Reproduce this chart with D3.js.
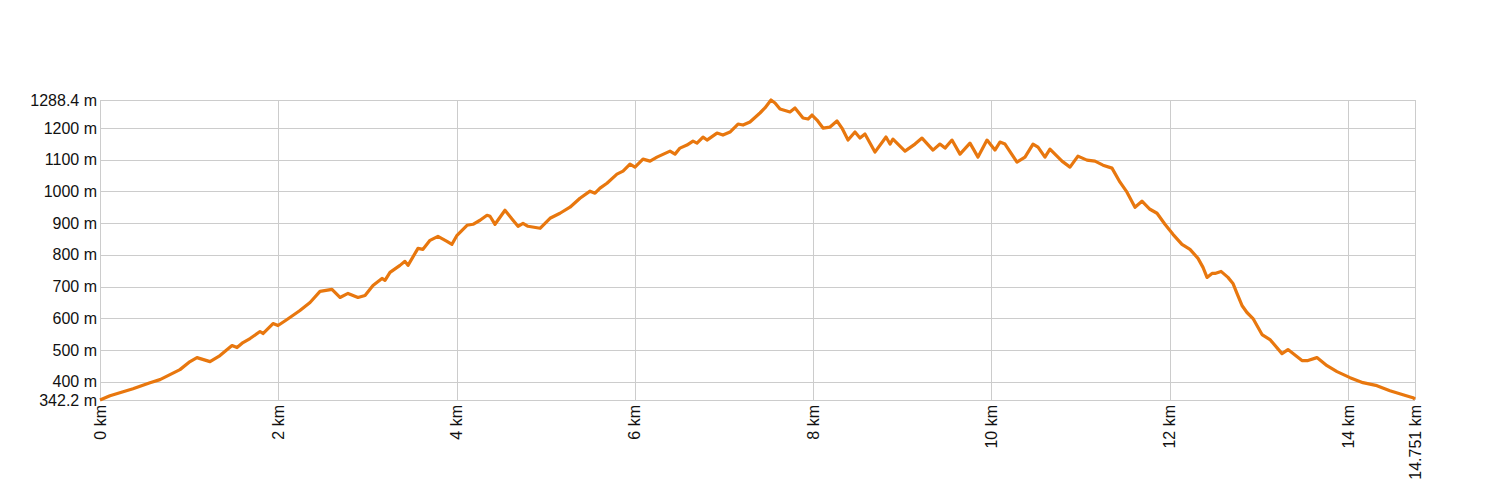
<!DOCTYPE html>
<html>
<head>
<meta charset="utf-8">
<script src="https://cdn.jsdelivr.net/npm/d3@7"></script>
<style>
  html, body { margin: 0; padding: 0; background: #fff; }
  svg { display: block; font-family: "Liberation Sans", Arial, sans-serif; }
</style>
</head>
<body>
<svg id="chart" width="1500" height="500"></svg>
<script>
// Distance along the route (km)
const distanceKm = [
  0, 0.112, 0.370, 0.561, 0.673, 0.785, 0.897, 1.010, 1.088, 1.234,
  1.346, 1.481, 1.537, 1.604, 1.683, 1.795, 1.828, 1.941, 1.997, 2.098,
  2.243, 2.356, 2.468, 2.602, 2.692, 2.782, 2.894, 2.973, 3.062, 3.163,
  3.197, 3.253, 3.365, 3.421, 3.455, 3.567, 3.623, 3.702, 3.791, 3.892,
  3.948, 4.005, 4.117, 4.184, 4.263, 4.341, 4.375, 4.431, 4.543, 4.633,
  4.689, 4.745, 4.801, 4.936, 5.048, 5.160, 5.272, 5.384, 5.497, 5.553,
  5.609, 5.687, 5.799, 5.867, 5.945, 6.001, 6.091, 6.170, 6.248, 6.394,
  6.450, 6.506, 6.584, 6.652, 6.697, 6.764, 6.809, 6.921, 6.988, 7.067,
  7.157, 7.213, 7.291, 7.403, 7.459, 7.527, 7.572, 7.628, 7.740, 7.796,
  7.886, 7.942, 7.987, 8.043, 8.110, 8.189, 8.267, 8.323, 8.391, 8.469,
  8.525, 8.581, 8.637, 8.693, 8.817, 8.862, 8.895, 9.030, 9.142, 9.221,
  9.344, 9.422, 9.479, 9.557, 9.647, 9.759, 9.849, 9.950, 10.039, 10.095,
  10.152, 10.286, 10.376, 10.466, 10.522, 10.600, 10.656, 10.735, 10.791, 10.881,
  10.970, 11.071, 11.161, 11.251, 11.352, 11.442, 11.520, 11.610, 11.688, 11.778,
  11.857, 11.946, 12.036, 12.137, 12.227, 12.317, 12.373, 12.418, 12.474, 12.507,
  12.575, 12.653, 12.709, 12.754, 12.810, 12.866, 12.934, 13.035, 13.124, 13.259,
  13.326, 13.483, 13.550, 13.651, 13.764, 13.876, 14.022, 14.167, 14.324, 14.470,
  14.616, 14.728, 14.751
];
// Elevation (m)
const elevationM = [
  342.2, 355.8, 377.9, 396.9, 406.4, 422.2, 438.0, 463.3, 475.9, 463.3,
  482.3, 513.9, 507.5, 523.4, 536.0, 558.1, 551.8, 583.4, 577.1, 596.1,
  624.5, 649.8, 684.6, 690.9, 665.6, 678.3, 665.6, 672.0, 703.6, 725.7,
  719.4, 744.7, 766.8, 779.5, 766.8, 820.6, 817.4, 845.8, 858.5, 842.7,
  833.2, 861.7, 893.3, 896.4, 909.1, 924.9, 921.7, 896.4, 940.7, 909.1,
  890.1, 899.6, 890.1, 883.8, 915.4, 931.2, 950.2, 978.6, 1000.8, 994.4,
  1010.3, 1026.0, 1054.5, 1064.0, 1086.1, 1076.6, 1101.9, 1095.6, 1108.3, 1127.2,
  1117.7, 1136.7, 1146.2, 1158.8, 1152.5, 1171.5, 1162.0, 1184.1, 1177.8, 1187.3,
  1212.6, 1209.4, 1218.9, 1247.4, 1263.2, 1288.4, 1279.0, 1260.0, 1250.5, 1263.2,
  1231.6, 1228.4, 1241.0, 1225.2, 1199.9, 1203.1, 1222.1, 1199.9, 1162.0, 1187.3,
  1168.3, 1181.0, 1152.5, 1124.1, 1171.5, 1149.4, 1165.2, 1127.2, 1149.4, 1168.3,
  1130.4, 1149.4, 1136.7, 1162.0, 1117.7, 1152.5, 1108.3, 1162.0, 1130.4, 1155.7,
  1149.4, 1092.4, 1108.3, 1149.4, 1139.9, 1108.3, 1133.5, 1111.4, 1095.6, 1076.6,
  1111.4, 1098.8, 1095.6, 1082.9, 1073.5, 1029.2, 997.6, 950.2, 969.1, 943.8,
  931.2, 896.4, 864.8, 833.2, 817.4, 788.9, 760.5, 728.9, 741.5, 741.5,
  747.8, 728.9, 709.9, 678.3, 640.3, 618.2, 599.2, 548.7, 532.8, 488.6,
  501.2, 466.5, 466.5, 475.9, 450.6, 431.7, 412.7, 396.9, 387.4, 371.6,
  359.0, 349.5, 345.0
];
// Axis ticks
const yTicks = [342.2, 400, 500, 600, 700, 800, 900, 1000, 1100, 1200, 1288.4];
const xTicks = [0, 2, 4, 6, 8, 10, 12, 14, 14.751];

const svg = d3.select("#chart");
const plotLeft = 100, plotRight = 1415, plotTop = 100, plotBottom = 400;

const x = d3.scaleLinear().domain([0, 14.751]).range([plotLeft, plotRight]);
const y = d3.scaleLinear().domain([342.2, 1288.4]).range([plotBottom, plotTop]);

const grid = svg.append("g").attr("stroke", "#cccccc").attr("stroke-width", 1).attr("shape-rendering", "crispEdges");
grid.selectAll("line.h").data(yTicks).join("line")
  .attr("x1", plotLeft).attr("x2", plotRight)
  .attr("y1", d => Math.round(y(d)) + 0.5).attr("y2", d => Math.round(y(d)) + 0.5);
grid.selectAll("line.v").data(xTicks).join("line")
  .attr("y1", plotTop).attr("y2", plotBottom)
  .attr("x1", d => Math.round(x(d)) + 0.5).attr("x2", d => Math.round(x(d)) + 0.5);

// Y labels
svg.append("g").selectAll("text").data(yTicks).join("text")
  .attr("x", plotLeft - 3).attr("y", d => y(d)).attr("dy", "0.35em")
  .attr("text-anchor", "end").attr("font-size", 16).attr("fill", "#111")
  .text(d => `${d} m`);

// X labels (rotated)
svg.append("g").selectAll("text").data(xTicks).join("text")
  .attr("transform", d => `translate(${x(d)},${plotBottom + 5}) rotate(-90)`)
  .attr("dy", "0.35em").attr("text-anchor", "end")
  .attr("font-size", 16).attr("fill", "#111")
  .text(d => `${d} km`);

// Profile line
const line = d3.line().x((d, i) => x(distanceKm[i])).y(d => y(d));
svg.append("path").datum(elevationM)
  .attr("d", line)
  .attr("fill", "none").attr("stroke", "#e8770e")
  .attr("stroke-width", 3.2).attr("stroke-linejoin", "round");
</script>
</body>
</html>
